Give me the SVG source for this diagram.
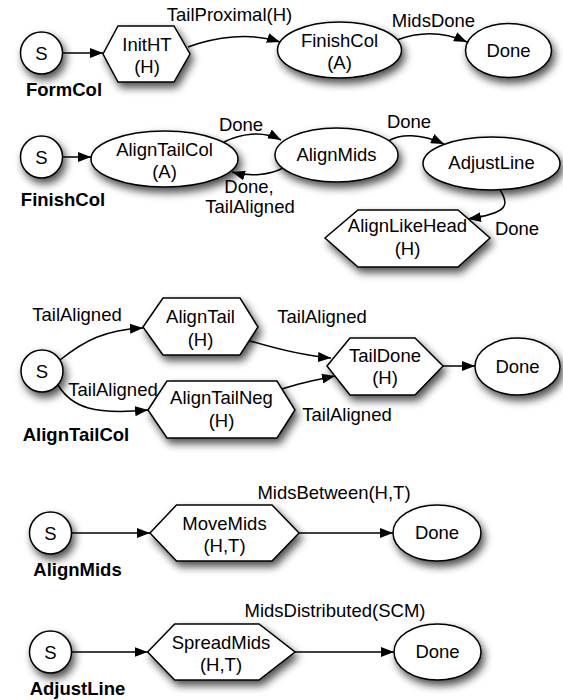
<svg xmlns="http://www.w3.org/2000/svg" width="563" height="700" viewBox="0 0 563 700">
<style>
text{font-family:"Liberation Sans",Arial,sans-serif;font-size:18.5px;fill:#000;text-anchor:middle}
.t{font-weight:bold}
.n{fill:#fff;stroke:#000;stroke-width:1.5;filter:url(#sh)}
.e{fill:none;stroke:#000;stroke-width:1.5;marker-end:url(#ah)}
</style>
<defs>
<filter id="sh" x="-30%" y="-30%" width="170%" height="180%">
<feGaussianBlur in="SourceAlpha" stdDeviation="4"/>
<feOffset dx="3" dy="5" result="b"/>
<feComponentTransfer><feFuncA type="linear" slope="0.7"/></feComponentTransfer>
<feMerge><feMergeNode/><feMergeNode in="SourceGraphic"/></feMerge>
</filter>
<marker id="ah" markerUnits="userSpaceOnUse" markerWidth="13" markerHeight="10" refX="13" refY="5" orient="auto">
<path d="M0,0 L13,5 L0,10 z" fill="#000"/>
</marker>
</defs>

<g id="connectors">
<line class="e" x1="62.5" y1="53" x2="103" y2="53"/>
<path class="e" d="M188,47 C215,37 250,32 280,42"/>
<path class="e" d="M397,40 C415,33 440,30 467,42"/>
<line class="e" x1="62.5" y1="157" x2="91" y2="157"/>
<path class="e" d="M224,142 C240,134 262,130 281,140"/>
<path class="e" d="M283,168 C270,175 250,177 232,172"/>
<path class="e" d="M388,141 C400,134 420,133 444,144"/>
<path class="e" d="M500,190 C510,205 508,213 468,219"/>
<path class="e" d="M60,360 C85,340 105,330 143,328"/>
<path class="e" d="M58,385 C72,408 95,415 148,410"/>
<path class="e" d="M247,340 C280,350 305,356 331,358"/>
<path class="e" d="M282,389 C300,383 315,380 335,376"/>
<line class="e" x1="443" y1="366" x2="475" y2="366"/>
<line class="e" x1="71.5" y1="533" x2="150" y2="533"/>
<line class="e" x1="299" y1="533" x2="393" y2="533"/>
<line class="e" x1="71.5" y1="652" x2="147.6" y2="652"/>
<line class="e" x1="295" y1="652" x2="394" y2="652"/>
</g>
<g id="edge-labels">
<text x="229.5" y="21">TailProximal(H)</text>
<text x="433.5" y="27">MidsDone</text>
<text x="241" y="131">Done</text>
<text x="249" y="193">Done,</text>
<text x="250" y="213">TailAligned</text>
<text x="409" y="128">Done</text>
<text x="517" y="235">Done</text>
<text x="77" y="321">TailAligned</text>
<text x="113" y="396">TailAligned</text>
<text x="322" y="323">TailAligned</text>
<text x="347" y="421">TailAligned</text>
<text x="334" y="499">MidsBetween(H,T)</text>
<text x="335" y="617">MidsDistributed(SCM)</text>
</g>

<g id="formcol-s"><circle class="n" cx="41.5" cy="53" r="21"/><text x="41.5" y="60">S</text><text class="t" x="64" y="96">FormCol</text></g>
<g id="initht"><polygon class="n" points="103,54 118,26 174,26 190,54 174,82 118,82"/><text x="147" y="51">InitHT</text><text x="147" y="73">(H)</text></g>
<g id="finishcol"><ellipse class="n" cx="339.5" cy="50" rx="62" ry="28"/><text x="339.5" y="47">FinishCol</text><text x="339.5" y="69">(A)</text></g>
<g id="done1"><ellipse class="n" cx="508.5" cy="50.5" rx="43" ry="27"/><text x="508.5" y="57">Done</text></g>

<g id="finishcol-s"><circle class="n" cx="41.5" cy="157" r="21"/><text x="41.5" y="164">S</text><text class="t" x="63" y="206">FinishCol</text></g>
<g id="aligntailcol"><ellipse class="n" cx="164.5" cy="159" rx="73.5" ry="28"/><text x="164.5" y="156">AlignTailCol</text><text x="164.5" y="178">(A)</text></g>
<g id="alignmids"><ellipse class="n" cx="336.5" cy="155" rx="61.5" ry="27"/><text x="336.5" y="161">AlignMids</text></g>
<g id="adjustline"><ellipse class="n" cx="491.5" cy="163.5" rx="68.5" ry="26.5"/><text x="491.5" y="169">AdjustLine</text></g>
<g id="alignlikehead"><polygon class="n" points="325,238 358,210 458,210 490,238 458,267 358,267"/><text x="407.5" y="232">AlignLikeHead</text><text x="407.5" y="255">(H)</text></g>

<g id="aligntailcol-s"><circle class="n" cx="42" cy="371" r="21"/><text x="42" y="378">S</text><text class="t" x="76" y="441">AlignTailCol</text></g>
<g id="aligntail"><polygon class="n" points="143,327 163,298 240,298 258,327 240,355 163,355"/><text x="200.5" y="323">AlignTail</text><text x="200.5" y="346">(H)</text></g>
<g id="aligntailneg"><polygon class="n" points="148,410 167,381 277,381 295,410 277,438 167,438"/><text x="221.5" y="404">AlignTailNeg</text><text x="221.5" y="427">(H)</text></g>
<g id="taildone"><polygon class="n" points="327,366 350,338 415,338 443,366 415,395 350,395"/><text x="385" y="362">TailDone</text><text x="385" y="384">(H)</text></g>
<g id="done3"><ellipse class="n" cx="517.5" cy="366.5" rx="42.5" ry="28.5"/><text x="517.5" y="373">Done</text></g>

<g id="alignmids-s"><circle class="n" cx="50.5" cy="533" r="21"/><text x="50.5" y="540">S</text><text class="t" x="77.5" y="576">AlignMids</text></g>
<g id="movemids"><polygon class="n" points="150,533 176.5,505 272,505 299,533 272,561 176.5,561"/><text x="224.5" y="530">MoveMids</text><text x="224.5" y="552">(H,T)</text></g>
<g id="done4"><ellipse class="n" cx="437" cy="533" rx="44" ry="28"/><text x="437" y="539">Done</text></g>

<g id="adjustline-s"><circle class="n" cx="50.5" cy="652" r="21"/><text x="50.5" y="659">S</text><text class="t" x="77.5" y="695">AdjustLine</text></g>
<g id="spreadmids"><polygon class="n" points="147.6,652 174.7,624 259,624 295,652 259,680 174.7,680"/><text x="221" y="649">SpreadMids</text><text x="221" y="671">(H,T)</text></g>
<g id="done5"><ellipse class="n" cx="437.5" cy="652" rx="43.5" ry="28"/><text x="437.5" y="658">Done</text></g>
</svg>
